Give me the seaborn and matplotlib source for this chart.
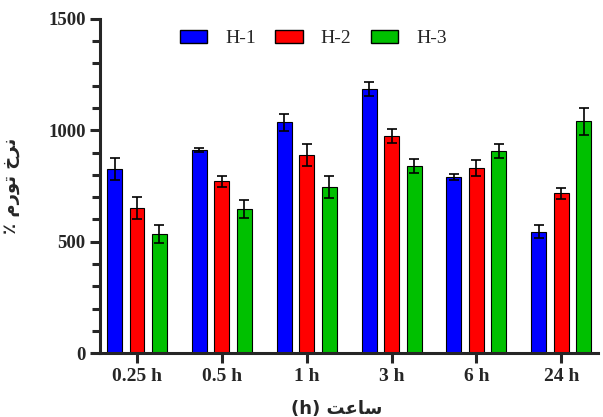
import numpy as np
import pandas as pd
import seaborn as sns
import matplotlib.pyplot as plt
from matplotlib.ticker import MultipleLocator

# --- data ---
times = ["0.25 h", "0.5 h", "1 h", "3 h", "6 h", "24 h"]
groups = ["H-1", "H-2", "H-3"]
h1_mean = [826, 912, 1035, 1185, 790, 545]
h2_mean = [652, 772, 889, 974, 831, 718]
h3_mean = [535, 647, 745, 840, 907, 1040]
h1_err = [48, 10, 40, 30, 12, 30]
h2_err = [48, 25, 48, 30, 35, 25]
h3_err = [40, 42, 48, 30, 30, 62]
colors = ["#0000FF", "#FF0000", "#00C000"]

# Persian labels written in visual order with presentation forms
ylabel = "\u066A \uFEE1\uFEAD\uFEEE\uFE97 \uFEA5\uFEAE\uFEE7"
xlabel = "(h) \uFE96\uFECB\uFE8E\uFEB3"

errs = [h1_err, h2_err, h3_err]
df = pd.DataFrame({
    "time": times * 3,
    "group": np.repeat(groups, len(times)),
    "value": h1_mean + h2_mean + h3_mean,
})

sns.set_style("ticks")
plt.rcParams["font.family"] = ["Liberation Serif", "DejaVu Sans"]

fig, ax = plt.subplots(figsize=(6.03, 4.17), dpi=100)
fig.subplots_adjust(left=0.166, right=0.992, top=0.955, bottom=0.153)

sns.barplot(data=df, x="time", y="value", hue="group", order=times,
            hue_order=groups, palette=colors, errorbar=None,
            width=0.795, gap=0.335, edgecolor="black", linewidth=0.8,
            saturation=1, ax=ax)

# error bars from the listed errors
for cont, err in zip(ax.containers, errs):
    xs = [p.get_x() + p.get_width() / 2 for p in cont.patches]
    hs = [p.get_height() for p in cont.patches]
    ax.errorbar(xs, hs, yerr=err, fmt="none", ecolor="black",
                elinewidth=1.2, capsize=3.5, capthick=1.2, zorder=5)

ax.set_ylim(0, 1500)
ax.set_xlim(-0.435, 5.435)
ax.yaxis.set_major_locator(MultipleLocator(500))
ax.yaxis.set_minor_locator(MultipleLocator(100))

for side in ["top", "right"]:
    ax.spines[side].set_visible(False)
for side in ["left", "bottom"]:
    ax.spines[side].set_linewidth(2.2)

ax.tick_params(axis="both", which="major", length=7, width=2.2, direction="out")
ax.tick_params(axis="y", which="minor", length=6, width=2.2, direction="out")
for lab in ax.get_yticklabels():
    lab.set_fontweight("bold")
    lab.set_fontsize(13.5)
    lab.set_family(["Liberation Serif"])
for lab in ax.get_xticklabels():
    lab.set_fontweight("bold")
    lab.set_fontsize(14)
    lab.set_family(["Liberation Serif"])

ax.set_xlabel(xlabel, fontsize=13, fontweight="bold",
              family=["DejaVu Sans"])
ax.xaxis.set_label_coords(0.475, -0.14, transform=ax.transAxes)
ax.xaxis.label.set_va("top")
ax.set_ylabel(ylabel, fontsize=13, fontweight="bold",
              family=["DejaVu Sans"], labelpad=20)

leg = ax.legend(loc="upper center", bbox_to_anchor=(0.428, 1.02), ncol=3,
                frameon=False, fontsize=14, handlelength=1.4,
                handleheight=0.7, columnspacing=1.0, handletextpad=0.93)
for h in leg.legend_handles:
    h.set_edgecolor("black")
    h.set_linewidth(1.0)

plt.savefig("out.png", dpi=100)
